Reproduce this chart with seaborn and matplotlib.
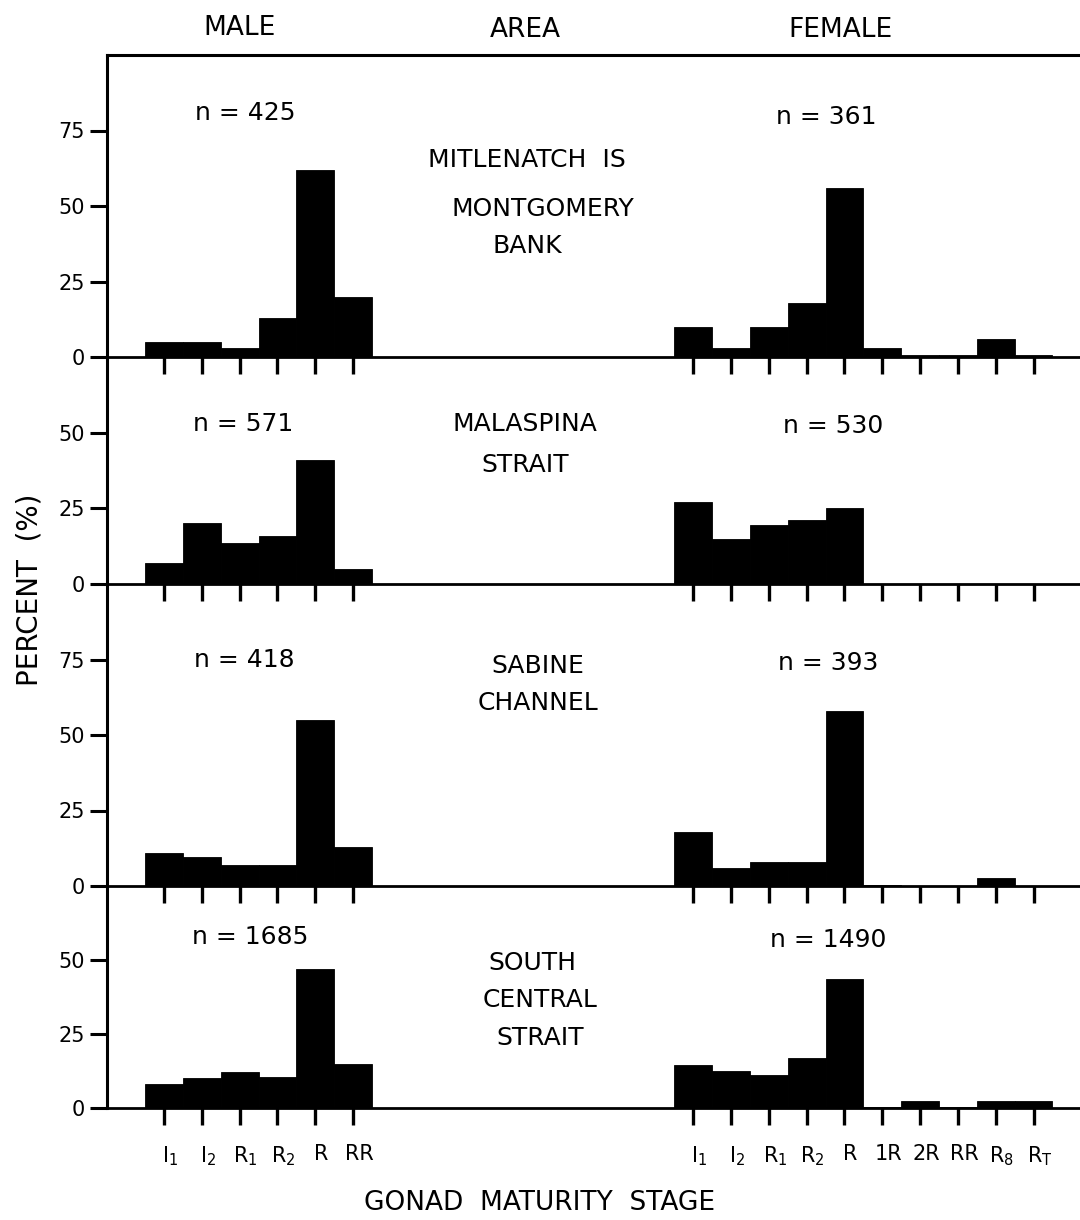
import numpy as np
import pandas as pd
import matplotlib
matplotlib.use("Agg")
import matplotlib.pyplot as plt
import matplotlib.transforms as mtransforms
import seaborn as sns

# ---------------- data ----------------
male_stages = [r"$\mathrm{I}_1$", r"$\mathrm{I}_2$", r"$\mathrm{R}_1$", r"$\mathrm{R}_2$", "R", "RR"]
female_stages = [r"$\mathrm{I}_1$", r"$\mathrm{I}_2$", r"$\mathrm{R}_1$", r"$\mathrm{R}_2$", "R",
                 "1R", "2R", "RR", r"$\mathrm{R}_\mathrm{8}$", r"$\mathrm{R}_\mathrm{T}$"]

male_mitlenatch = [5, 5, 3, 13, 62, 20]
male_malaspina = [7, 20, 13.5, 16, 41, 5]
male_sabine = [11, 9.5, 7, 7, 55, 13]
male_southcentral = [8, 10, 12, 10.5, 47, 15]

female_mitlenatch = [10, 3, 10, 18, 56, 3, 0.5, 0.5, 6, 0.5]
female_malaspina = [27, 15, 19.5, 21, 25, 0, 0, 0, 0, 0]
female_sabine = [18, 6, 8, 8, 58, 0.3, 0, 0, 2.5, 0]
female_southcentral = [14.5, 12.5, 11, 17, 43.5, 0.3, 2.5, 0.3, 2.5, 2.5]

male_n = [425, 571, 418, 1685]
female_n = [361, 530, 393, 1490]

area_lines = [["MITLENATCH  IS", "MONTGOMERY", "BANK"],
              ["MALASPINA", "STRAIT"],
              ["SABINE", "CHANNEL"],
              ["SOUTH", "CENTRAL", "STRAIT"]]

panel_ymax = [100, 75, 100, 75]
panel_yticks = [[0, 25, 50, 75], [0, 25, 50], [0, 25, 50, 75], [0, 25, 50]]

# ---------------- layout (pixels) ----------------
W, H = 1080, 1220
male_pos = np.arange(len(male_stages))
female_pos = 14 + np.arange(len(female_stages))

n_male_xy = [(245, 113), (243, 424), (244, 660), (250, 937)]
n_female_xy = [(826, 117), (833, 426), (828, 663), (828, 940)]
area_xy = [[(527, 160), (543, 209), (527, 246)],
           [(525, 424), (525, 465)],
           [(538, 666), (538, 703)],
           [(532, 963), (540, 1000), (540, 1038)]]

sns.set_style("white")
plt.rcParams["font.family"] = ["DejaVu Sans"]

fig = plt.figure(figsize=(W / 100, H / 100), dpi=100)
gs = fig.add_gridspec(4, 1, left=107 / W, right=1.0, top=1 - 55 / H, bottom=1 - 1108 / H,
                      hspace=0, height_ratios=[302, 227, 302, 222])

male_sets = [male_mitlenatch, male_malaspina, male_sabine, male_southcentral]
female_sets = [female_mitlenatch, female_malaspina, female_sabine, female_southcentral]

axes = []
for i in range(4):
    ax = fig.add_subplot(gs[i], sharex=axes[0] if axes else None)
    axes.append(ax)
    dm = pd.DataFrame({"pos": male_pos, "pct": male_sets[i]})
    dfm = pd.DataFrame({"pos": female_pos, "pct": female_sets[i]})
    for d in (dm, dfm):
        sns.histplot(data=d, x="pos", weights="pct", discrete=True, shrink=1,
                     color="black", edgecolor="black", linewidth=0.6, alpha=1, ax=ax)
    ax.set_ylim(0, panel_ymax[i])
    ax.set_yticks(panel_yticks[i])
    ax.set_yticklabels([str(t) for t in panel_yticks[i]])
    ax.set_xlim(-1.51, 24.23)
    ax.set_xticks(list(male_pos) + list(female_pos))
    ax.set_xticklabels(male_stages + female_stages)
    ax.set_xlabel("")
    ax.set_ylabel("")
    ax.patch.set_alpha(0)
    ax.spines["right"].set_visible(False)
    ax.spines["top"].set_visible(i == 0)
    ax.spines["top"].set_linewidth(2.2)
    ax.spines["left"].set_linewidth(2.2)
    ax.spines["bottom"].set_linewidth(2.0)
    for s in ax.spines.values():
        s.set_color("black")
        s.set_zorder(5)
    ax.tick_params(axis="y", direction="out", length=12, width=2.2, labelsize=15,
                   pad=4, left=True, colors="black")
    ax.tick_params(axis="x", direction="out", length=12, width=2.4, bottom=True,
                   labelbottom=(i == 3), labelsize=15, pad=14, colors="black")
    ax.grid(False)

# shift bottom tick labels slightly right like the original lettering
offset = mtransforms.ScaledTranslation(6 / 100, 0, fig.dpi_scale_trans)
for lab in axes[3].get_xticklabels():
    lab.set_transform(lab.get_transform() + offset)

def ftext(x, y, s, **kw):
    fig.text(x / W, 1 - y / H, s, ha="center", va="center", color="black", **kw)

ftext(240, 28, "MALE", fontsize=19)
ftext(525, 30, "AREA", fontsize=19)
ftext(840, 30, "FEMALE", fontsize=19)

for i in range(4):
    ftext(*n_male_xy[i], f"n = {male_n[i]}", fontsize=18)
    ftext(*n_female_xy[i], f"n = {female_n[i]}", fontsize=18)
    for line, xy in zip(area_lines[i], area_xy[i]):
        ftext(*xy, line, fontsize=18)

ftext(30, 590, "PERCENT  (%)", fontsize=20, rotation=90)
ftext(540, 1203, "GONAD  MATURITY  STAGE", fontsize=19)

fig.savefig("out.png", dpi=100, facecolor="white")
